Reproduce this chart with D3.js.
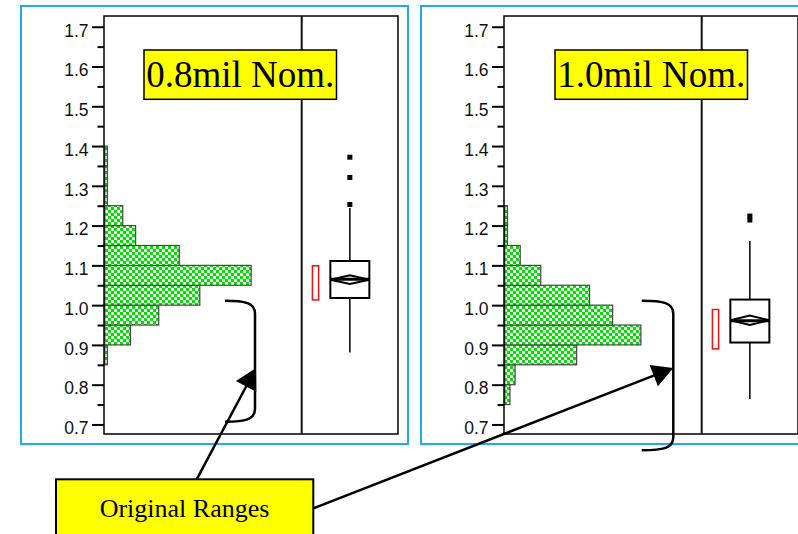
<!DOCTYPE html>
<html>
<head>
<meta charset="utf-8">
<script src="https://cdn.jsdelivr.net/npm/d3@7"></script>
<style>
  html, body { margin: 0; padding: 0; background: #fff; }
  svg { display: block; }
</style>
</head>
<body>
<svg id="chart" width="798" height="534"></svg>
<script>
// ---- data -------------------------------------------------------------
// Histogram bins (lower edge, width 0.05) shared by both wire-size panels
const binStarts = [0.75, 0.80, 0.85, 0.90, 0.95, 1.00, 1.05, 1.10, 1.15, 1.20, 1.25, 1.30, 1.35];
const binWidth = 0.05;
const counts08 = [0, 0, 1, 10, 21, 37, 57, 29, 12, 7, 1, 1, 1];
const counts10 = [2, 4, 28, 53, 42, 33, 14, 6, 1, 1, 0, 0, 0];

const panelTitles = ["0.8mil Nom.", "1.0mil Nom."];

// Outlier box plot summaries, one entry per panel
const boxQ1      = [1.018, 0.906];
const boxMedian  = [1.065, 0.961];
const boxQ3      = [1.111, 1.014];
const whiskerLo  = [0.881, 0.764];
const whiskerHi  = [1.244, 1.161];
const meanValue  = [1.064, 0.962];
const meanCI     = [0.011, 0.012];
const shortHalfLo = [1.013, 0.890];
const shortHalfHi = [1.099, 0.989];
const outliers08 = [1.253, 1.321, 1.372];
const outliers10 = [1.214, 1.224];

// Y axis ticks
const majorTicks = [0.7, 0.8, 0.9, 1.0, 1.1, 1.2, 1.3, 1.4, 1.5, 1.6, 1.7];
const minorTicks = [0.75, 0.85, 0.95, 1.05, 1.15, 1.25, 1.35, 1.45, 1.55, 1.65];

// "Original Ranges" brackets (value span on the y axis)
const rangeTop    = [1.011, 1.011];
const rangeBottom = [0.707, 0.635];
const arrowTipVal = [0.842, 0.842];

const annotationText = "Original Ranges";

// ---- layout -----------------------------------------------------------
const svg = d3.select("#chart");
const panelLeft = [104, 504];       // frame left edge of each panel
const frameW = 294;
const histW = 197.7;
const frameTop = 16, frameBottom = 434;

const y = d3.scaleLinear().domain([0.676, 1.727]).range([frameBottom, frameTop]);
const xCount = d3.scaleLinear().domain([0, 77]).range([0, histW]);

// checkerboard fill for the histogram bars
const defs = svg.append("defs");
const pat = defs.append("pattern")
  .attr("id", "checker").attr("patternUnits", "userSpaceOnUse")
  .attr("width", 6).attr("height", 6);
pat.append("rect").attr("width", 6).attr("height", 6).attr("fill", "#ffffff");
pat.append("rect").attr("width", 3).attr("height", 3).attr("fill", "#00e000");
pat.append("rect").attr("x", 3).attr("y", 3).attr("width", 3).attr("height", 3).attr("fill", "#00e000");

const countsByPanel = [counts08, counts10];
const outliersByPanel = [outliers08, outliers10];

panelLeft.forEach((x0, p) => {
  const g = svg.append("g");

  // light blue outer panel border
  g.append("rect")
    .attr("x", x0 - 83).attr("y", 6)
    .attr("width", 387).attr("height", 438)
    .attr("fill", "none").attr("stroke", "#22aaee").attr("stroke-width", 2);

  // histogram bars
  const bins = binStarts.map((lo, i) => ({ lo, n: countsByPanel[p][i] })).filter(d => d.n > 0);
  g.selectAll("rect.bar").data(bins).join("rect")
    .attr("class", "bar")
    .attr("x", x0 + 0.8)
    .attr("y", d => y(d.lo + binWidth))
    .attr("width", d => xCount(d.n))
    .attr("height", d => y(d.lo) - y(d.lo + binWidth))
    .attr("fill", "url(#checker)")
    .attr("stroke", "#444").attr("stroke-width", 1.2);

  // plot frame and divider between histogram and box plot
  g.append("rect")
    .attr("x", x0).attr("y", frameTop)
    .attr("width", frameW).attr("height", frameBottom - frameTop)
    .attr("fill", "none").attr("stroke", "#000").attr("stroke-width", 1.5);
  g.append("line")
    .attr("x1", x0 + histW).attr("x2", x0 + histW)
    .attr("y1", frameTop).attr("y2", frameBottom)
    .attr("stroke", "#111").attr("stroke-width", 2);

  // y axis: major + minor ticks
  const axisMajor = d3.axisLeft(y).tickValues(majorTicks).tickSize(12).tickSizeOuter(0)
    .tickPadding(3.5).tickFormat(d3.format(".1f"));
  const ga = g.append("g").attr("transform", `translate(${x0},0)`).call(axisMajor);
  ga.select(".domain").remove();
  ga.selectAll(".tick line").attr("stroke", "#000").attr("stroke-width", 2);
  ga.selectAll(".tick text")
    .attr("font-family", "'Liberation Sans', Arial, sans-serif")
    .attr("font-size", 17.5).attr("fill", "#111").attr("dy", "0.53em");

  const axisMinor = d3.axisLeft(y).tickValues(minorTicks).tickSize(6.5).tickSizeOuter(0).tickFormat("");
  const gm = g.append("g").attr("transform", `translate(${x0},0)`).call(axisMinor);
  gm.select(".domain").remove();
  gm.selectAll(".tick line").attr("stroke", "#000").attr("stroke-width", 2);

  // box plot
  const cx = x0 + histW + (frameW - histW) / 2;
  const hw = 19.5;
  // whiskers
  g.append("line").attr("x1", cx).attr("x2", cx)
    .attr("y1", y(boxQ3[p])).attr("y2", y(whiskerHi[p]))
    .attr("stroke", "#000").attr("stroke-width", 1.5);
  g.append("line").attr("x1", cx).attr("x2", cx)
    .attr("y1", y(boxQ1[p])).attr("y2", y(whiskerLo[p]))
    .attr("stroke", "#000").attr("stroke-width", 1.5);
  // quartile box
  g.append("rect")
    .attr("x", cx - hw).attr("y", y(boxQ3[p]))
    .attr("width", hw * 2).attr("height", y(boxQ1[p]) - y(boxQ3[p]))
    .attr("fill", "#fff").attr("stroke", "#000").attr("stroke-width", 2);
  // mean diamond
  const m = meanValue[p], ci = meanCI[p];
  g.append("path")
    .attr("d", `M${cx - hw},${y(m)} L${cx},${y(m + ci)} L${cx + hw},${y(m)} L${cx},${y(m - ci)} Z`)
    .attr("fill", "#fff").attr("stroke", "#000").attr("stroke-width", 2);
  // median line
  g.append("line")
    .attr("x1", cx - hw).attr("x2", cx + hw)
    .attr("y1", y(boxMedian[p])).attr("y2", y(boxMedian[p]))
    .attr("stroke", "#000").attr("stroke-width", 3);
  // outliers
  g.selectAll("rect.out").data(outliersByPanel[p]).join("rect")
    .attr("class", "out")
    .attr("x", cx - 2.5).attr("y", d => y(d) - 2.5)
    .attr("width", 5).attr("height", 5).attr("fill", "#000");
  // shortest-half bracket
  g.append("rect")
    .attr("x", x0 + histW + 10.7).attr("y", y(shortHalfHi[p]))
    .attr("width", 6.2).attr("height", y(shortHalfLo[p]) - y(shortHalfHi[p]))
    .attr("fill", "#fff").attr("stroke", "#ee1111").attr("stroke-width", 1.5);

  // title box
  const tx = p === 0 ? x0 + 40 : x0 + 51;
  g.append("rect")
    .attr("x", tx).attr("y", 50).attr("width", 192.5).attr("height", 49.3)
    .attr("fill", "#ffff00").attr("stroke", "#000").attr("stroke-width", 1.5);
  g.append("text")
    .attr("x", tx + 96.3).attr("y", 87)
    .attr("text-anchor", "middle")
    .attr("font-family", "'Liberation Serif', 'Times New Roman', serif")
    .attr("font-size", 37).attr("fill", "#000")
    .text(panelTitles[p]);
});

// ---- "Original Ranges" annotation -------------------------------------
const bracketX = [[225, 255], [641.7, 673.3]];
bracketX.forEach(([xa, xb], i) => {
  const yt = y(rangeTop[i]), yb = y(rangeBottom[i]);
  svg.append("path")
    .attr("d", `M${xa},${yt} C${xb - 10},${yt} ${xb},${yt + 2} ${xb},${yt + 13} ` +
               `L${xb},${yb - 13} C${xb},${yb - 2} ${xb - 10},${yb} ${xa},${yb}`)
    .attr("fill", "none").attr("stroke", "#000").attr("stroke-width", 2.5);
});

// label box
svg.append("rect")
  .attr("x", 56).attr("y", 479.3).attr("width", 257.3).attr("height", 70)
  .attr("fill", "#ffff00").attr("stroke", "#000").attr("stroke-width", 2);
svg.append("text")
  .attr("x", 184.5).attr("y", 517)
  .attr("text-anchor", "middle")
  .attr("font-family", "'Liberation Serif', 'Times New Roman', serif")
  .attr("font-size", 26).attr("fill", "#000")
  .text(annotationText);

// arrows from the label to each bracket
const arrowStarts = [[196.7, 479.3], [313.3, 508.3]];
arrowStarts.forEach(([sx, sy], i) => {
  const tipX = bracketX[i][1] + (i === 0 ? 1 : 0);
  const tipY = y(arrowTipVal[i]);
  const dx = tipX - sx, dy = tipY - sy;
  const len = Math.hypot(dx, dy);
  const ux = dx / len, uy = dy / len;
  const headLen = 21, headHalf = 11.5;
  const bx = tipX - ux * headLen, by = tipY - uy * headLen;
  svg.append("line")
    .attr("x1", sx).attr("y1", sy).attr("x2", bx + ux * 2).attr("y2", by + uy * 2)
    .attr("stroke", "#000").attr("stroke-width", 2.5);
  svg.append("path")
    .attr("d", `M${tipX},${tipY} L${bx - uy * headHalf},${by + ux * headHalf} L${bx + uy * headHalf},${by - ux * headHalf} Z`)
    .attr("fill", "#000");
});
</script>
</body>
</html>
